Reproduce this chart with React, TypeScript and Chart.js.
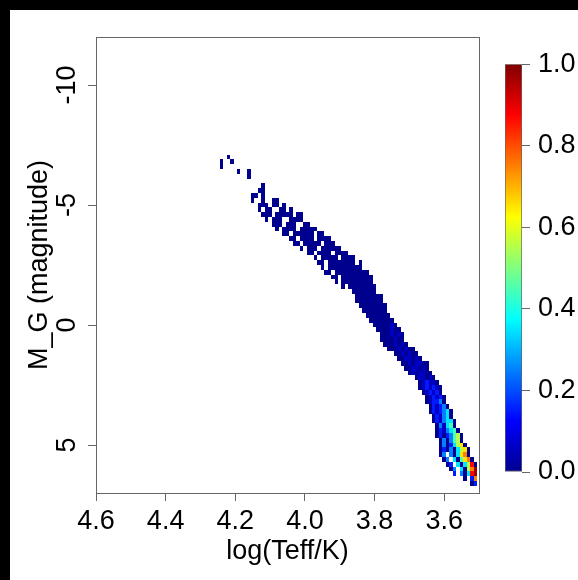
import React, { useEffect, useRef } from "react";
import { Chart, registerables } from "chart.js";

Chart.register(...registerables);

// Axis ticks / ranges
const xTicks = [4.6, 4.4, 4.2, 4.0, 3.8, 3.6];
const yTicks = [-10, -5, 0, 5];
const colorTicks = [0, 0.2, 0.4, 0.6, 0.8, 1.0];
const xMin = 3.5;
const xMax = 4.6;
const yMin = -12;
const yMax = 7;

// Heat-map cell size (logTeff, magnitude)
const cellLogT = 0.01;
const cellMag = 0.2;

// Each row: magnitude of row, logTeff of first (hottest) cell, density codes for
// successive cells toward cooler temperature (' ' = empty cell)
const rowMag = [
  -7.0, -6.8, -6.6, -6.4, -6.2, -5.8, -5.6, -5.4, -5.2, -5.0,
  -4.8, -4.6, -4.4, -4.2, -4.0, -3.8, -3.6, -3.4, -3.2, -3.0,
  -2.8, -2.6, -2.4, -2.2, -2.0, -1.8, -1.6, -1.4, -1.2, -1.0,
  -0.8, -0.6, -0.4, -0.2, 0.0, 0.2, 0.4, 0.6, 0.8, 1.0,
  1.2, 1.4, 1.6, 1.8, 2.0, 2.2, 2.4, 2.6, 2.8, 3.0,
  3.2, 3.4, 3.6, 3.8, 4.0, 4.2, 4.4, 4.6, 4.8, 5.0,
  5.2, 5.4, 5.6, 5.8, 6.0, 6.2, 6.4, 6.6,
];
const rowStartLogT = [
  4.22, 4.24, 4.24, 4.19, 4.16, 4.12, 4.13, 4.15, 4.15, 4.13,
  4.13, 4.12, 4.11, 4.09, 4.08, 4.06, 4.04, 4.03, 4.01, 3.99,
  3.97, 3.96, 3.95, 3.94, 3.92, 3.91, 3.89, 3.86, 3.85, 3.85,
  3.84, 3.83, 3.82, 3.81, 3.80, 3.79, 3.78, 3.78, 3.77, 3.76,
  3.74, 3.73, 3.72, 3.71, 3.70, 3.68, 3.67, 3.67, 3.66, 3.65,
  3.65, 3.64, 3.64, 3.63, 3.63, 3.62, 3.62, 3.62, 3.61, 3.61,
  3.61, 3.61, 3.60, 3.59, 3.58, 3.57, 3.54, 3.52,
];
const rowPattern = [
  "0", "0  0", "0", "0  0", "0", "0", "00", "00 0", "0  0  00", "000 00 0",
  "0 00  00 0", "000 00000 00", "0 000  0000", "000 000  00", "0 0000 00000", "00 000000 00", "00 0000 0000", "00 00000 000", "0 000 000000", "00 0000 0000",
  "0 00000 0000", "00 00000000 0", "0 0000000000", "00 0000000000", "00 000000000", "0 000000000", "0 00000000", "0000000", "00000000", "00000000",
  "00000000", "0000000", "0000000", "0000000", "0000010", "0000100", "0001010", "0000100", "0001010", "00010100",
  "0010100", "0011010", "00101100", "0011010", "0101100", "011010", "012110", "0121210", "012120", "012120",
  "012230", "021230", "0212340", "021340", "0213440", "031450", "0213450", "02023560", "0303560", "03024670",
  "020304670", "03 304780", "03 405780", "02 404690", "03 4068X", "2 3049X", "0 28", "02",
];
const levelCodes = ["0", "1", "2", "3", "4", "5", "6", "7", "8", "9", "X"];
const levelValues = [0.0, 0.06, 0.15, 0.25, 0.35, 0.45, 0.55, 0.65, 0.75, 0.87, 0.97];

// tim.colors-like jet palette
const jetStopPos = [0, 0.125, 0.375, 0.625, 0.875, 1];
const jetStopCol = ["#00008F", "#0000FF", "#00FFFF", "#FFFF00", "#FF0000", "#800000"];

const FONT = "'Liberation Sans', Arial, Helvetica, sans-serif";
const AXIS_COLOR = "#666666";

function hexToRgb(h: string) {
  return [parseInt(h.slice(1, 3), 16), parseInt(h.slice(3, 5), 16), parseInt(h.slice(5, 7), 16)];
}
function jet(v: number) {
  const t = Math.max(0, Math.min(1, v));
  for (let i = 1; i < jetStopPos.length; i++) {
    if (t <= jetStopPos[i]) {
      const f = (t - jetStopPos[i - 1]) / (jetStopPos[i] - jetStopPos[i - 1]);
      const a = hexToRgb(jetStopCol[i - 1]);
      const b = hexToRgb(jetStopCol[i]);
      const c = a.map((av, k) => Math.round(av + (b[k] - av) * f));
      return `rgb(${c[0]},${c[1]},${c[2]})`;
    }
  }
  return jetStopCol[jetStopCol.length - 1];
}

function buildCells() {
  const cells: { x: number; y: number; v: number }[] = [];
  rowPattern.forEach((pat, i) => {
    for (let j = 0; j < pat.length; j++) {
      const ch = pat[j];
      const k = levelCodes.indexOf(ch);
      if (k < 0) continue;
      cells.push({
        x: Math.round((rowStartLogT[i] - j * cellLogT) * 1000) / 1000,
        y: rowMag[i],
        v: levelValues[k],
      });
    }
  });
  return cells;
}

const heatmapPlugin = {
  id: "heatmapCells",
  beforeDatasetsDraw(chart: any) {
    const { ctx, chartArea: a, scales } = chart;
    const xs = scales.x;
    const ys = scales.y;
    const pts = chart.data.datasets[0].data as any[];
    ctx.save();
    ctx.beginPath();
    ctx.rect(a.left, a.top, a.right - a.left, a.bottom - a.top);
    ctx.clip();
    for (const p of pts) {
      const xa = xs.getPixelForValue(p.x + cellLogT / 2);
      const xb = xs.getPixelForValue(p.x - cellLogT / 2);
      const ya = ys.getPixelForValue(p.y - cellMag / 2);
      const yb = ys.getPixelForValue(p.y + cellMag / 2);
      const l = Math.round(Math.min(xa, xb));
      const r = Math.round(Math.max(xa, xb));
      const t = Math.round(Math.min(ya, yb));
      const b = Math.round(Math.max(ya, yb));
      ctx.fillStyle = jet(p.v);
      ctx.fillRect(l, t, r - l, b - t);
    }
    ctx.restore();
  },
};

const boxPlugin = {
  id: "plotBox",
  afterDraw(chart: any) {
    const { ctx, chartArea: a } = chart;
    ctx.save();
    ctx.strokeStyle = AXIS_COLOR;
    ctx.lineWidth = 1;
    ctx.strokeRect(Math.round(a.left) + 0.5, Math.round(a.top) + 0.5, Math.round(a.right - a.left), Math.round(a.bottom - a.top));
    ctx.restore();
  },
};

export default function App() {
  const mainRef = useRef<HTMLCanvasElement | null>(null);
  const barRef = useRef<HTMLCanvasElement | null>(null);

  useEffect(() => {
    if (!mainRef.current || !barRef.current) return;
    const cells = buildCells();
    const main = new Chart(mainRef.current, {
      type: "scatter",
      data: {
        datasets: [
          {
            data: cells as any,
            pointRadius: 0,
            pointHoverRadius: 0,
            showLine: false,
          },
        ],
      },
      options: {
        animation: false,
        responsive: false,
        maintainAspectRatio: false,
        events: [],
        layout: { padding: { top: 27, right: 11, left: 0, bottom: 0 } },
        plugins: { legend: { display: false }, tooltip: { enabled: false } },
        scales: {
          x: {
            type: "linear",
            min: xMin,
            max: xMax,
            reverse: true,
            afterBuildTicks: (s: any) => {
              s.ticks = xTicks.map((v) => ({ value: v }));
            },
            afterFit: (s: any) => {
              s.height = 87;
            },
            ticks: {
              font: { family: FONT, size: 27 },
              color: "#000",
              padding: 4,
              maxRotation: 0,
              minRotation: 0,
              autoSkip: false,
              callback: (v: any) => Number(v).toFixed(1),
            },
            grid: { drawOnChartArea: false, tickLength: 8, color: AXIS_COLOR },
            border: { color: AXIS_COLOR, width: 1 },
            title: {
              display: true,
              text: "log(Teff/K)",
              font: { family: FONT, size: 27 },
              color: "#000",
              padding: { top: 0, bottom: 12 },
            },
          },
          y: {
            type: "linear",
            min: yMin,
            max: yMax,
            reverse: true,
            afterBuildTicks: (s: any) => {
              s.ticks = yTicks.map((v) => ({ value: v }));
            },
            afterFit: (s: any) => {
              s.width = 86;
            },
            ticks: {
              font: { family: FONT, size: 27 },
              color: "#000",
              padding: 1,
              minRotation: 90,
              maxRotation: 90,
              crossAlign: "center",
              autoSkip: false,
              callback: (v: any) => String(v),
            },
            grid: { drawOnChartArea: false, tickLength: 8, color: AXIS_COLOR },
            border: { color: AXIS_COLOR, width: 1 },
            title: {
              display: true,
              text: "M_G (magnitude)",
              font: { family: FONT, size: 27 },
              color: "#000",
              padding: { top: 13, bottom: 0 },
            },
          },
        },
      },
      plugins: [heatmapPlugin, boxPlugin],
    });

    const bar = new Chart(barRef.current, {
      type: "bar",
      data: {
        labels: [""],
        datasets: [
          {
            data: [[colorTicks[0], colorTicks[colorTicks.length - 1]]] as any,
            backgroundColor: (c: any) => {
              const ch = c.chart;
              const a = ch.chartArea;
              if (!a) return jetStopCol[0];
              const g = ch.ctx.createLinearGradient(0, a.bottom, 0, a.top);
              jetStopPos.forEach((p, i) => g.addColorStop(p, jetStopCol[i]));
              return g;
            },
            borderColor: AXIS_COLOR,
            borderWidth: 1,
            borderSkipped: false,
            barPercentage: 1,
            categoryPercentage: 1,
          },
        ],
      },
      options: {
        animation: false,
        responsive: false,
        maintainAspectRatio: false,
        events: [],
        layout: { padding: { left: 15, top: 19, bottom: 28, right: 0 } },
        plugins: { legend: { display: false }, tooltip: { enabled: false } },
        scales: {
          x: { display: false },
          y: {
            position: "right",
            min: 0,
            max: 1,
            afterBuildTicks: (s: any) => {
              s.ticks = colorTicks.map((v) => ({ value: v }));
            },
            afterFit: (s: any) => {
              s.width = 56;
            },
            ticks: {
              font: { family: FONT, size: 27 },
              color: "#000",
              padding: 8,
              callback: (v: any) => Number(v).toFixed(1),
            },
            grid: { drawOnChartArea: false, tickLength: 8, color: AXIS_COLOR },
            border: { display: false },
          },
        },
      },
    });

    return () => {
      main.destroy();
      bar.destroy();
    };
  }, []);

  return (
    <div style={{ position: "fixed", left: 0, top: 0, width: 578, height: 580, background: "#000" }}>
      <div style={{ position: "absolute", left: 10, top: 10, width: 568, height: 570, background: "#fff" }}>
        <canvas
          ref={mainRef}
          width={480}
          height={570}
          style={{ position: "absolute", left: 0, top: 0, width: 480, height: 570 }}
        />
        <canvas
          ref={barRef}
          width={88}
          height={460}
          style={{ position: "absolute", left: 480, top: 30, width: 88, height: 460 }}
        />
      </div>
    </div>
  );
}
